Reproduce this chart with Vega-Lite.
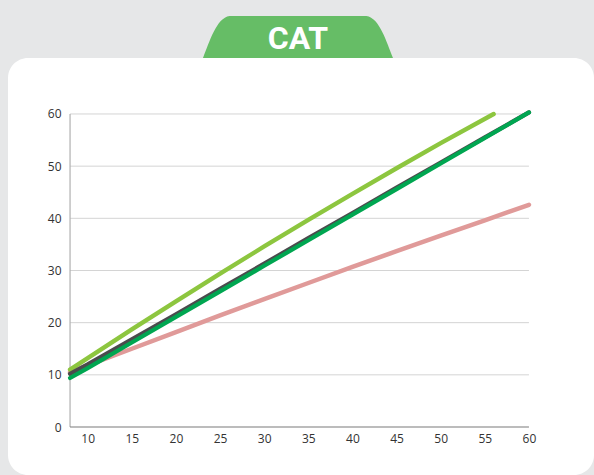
{
  "$schema": "https://vega.github.io/schema/vega-lite/v6.json",
  "background": "#e6e7e8",
  "padding": {"left": 8, "top": 16, "right": 0, "bottom": 0},
  "spacing": 0,
  "config": {"view": {"stroke": null}},
  "vconcat": [
    {
      "width": 580,
      "height": 42,
      "view": {"stroke": null},
      "data": {"values": [{"label": "CAT"}]},
      "layer": [
        {
          "mark": {
            "type": "point",
            "shape": "M -1 0.221 C -0.93 0.05 -0.86 -0.2 -0.72 -0.221 L 0.72 -0.221 C 0.86 -0.2 0.93 0.05 1 0.221 Z",
            "size": 36100,
            "filled": true,
            "fill": "#66bd66",
            "opacity": 1,
            "strokeWidth": 0
          },
          "encoding": {}
        },
        {
          "mark": {
            "type": "text",
            "font": "Roboto",
            "fontWeight": "bold",
            "fontSize": 32,
            "color": "#ffffff",
            "baseline": "middle",
            "align": "center",
            "dy": 2
          },
          "encoding": {"text": {"field": "label", "type": "nominal"}}
        }
      ]
    },
    {
      "width": 586,
      "height": 417,
      "view": {"fill": "#ffffff", "stroke": null, "cornerRadius": 20},
      "layer": [
        {
          "data": {"values": [{"g": 10}, {"g": 20}, {"g": 30}, {"g": 40}, {"g": 50}, {"g": 60}]},
          "mark": {"type": "rule", "color": "#d4d4d4", "strokeWidth": 1},
          "encoding": {
            "y": {"field": "g", "type": "quantitative",
              "scale": {"domain": [-9.2, 70.73], "zero": false, "nice": false},
              "axis": {"orient": "left", "offset": -62, "values": [0, 10, 20, 30, 40, 50, 60], "domain": false, "ticks": false, "grid": false, "title": null, "labelFont": "Open Sans", "labelFontSize": 12, "labelColor": "#333333", "labelPadding": 9, "labelFlush": false}},
            "x": {"datum": 8, "type": "quantitative",
              "scale": {"domain": [0.97, 67.37], "zero": false, "nice": false},
              "axis": {"orient": "bottom", "offset": -48, "values": [10, 15, 20, 25, 30, 35, 40, 45, 50, 55, 60], "domain": false, "ticks": false, "grid": false, "title": null, "labelFont": "Open Sans", "labelFontSize": 12, "labelColor": "#333333", "labelPadding": 6, "labelFlush": false}},
            "x2": {"datum": 60}
          }
        },
        {
          "data": {"values": [{"a": "y"}]},
          "mark": {"type": "rule", "color": "#b0b0b0", "strokeWidth": 1.2},
          "encoding": {
            "x": {"datum": 8, "type": "quantitative",
              "scale": {"domain": [0.97, 67.37], "zero": false, "nice": false},
              "axis": {"orient": "bottom", "offset": -48, "values": [10, 15, 20, 25, 30, 35, 40, 45, 50, 55, 60], "domain": false, "ticks": false, "grid": false, "title": null, "labelFont": "Open Sans", "labelFontSize": 12, "labelColor": "#333333", "labelPadding": 6, "labelFlush": false}},
            "y": {"datum": 0, "type": "quantitative",
              "scale": {"domain": [-9.2, 70.73], "zero": false, "nice": false},
              "axis": {"orient": "left", "offset": -62, "values": [0, 10, 20, 30, 40, 50, 60], "domain": false, "ticks": false, "grid": false, "title": null, "labelFont": "Open Sans", "labelFontSize": 12, "labelColor": "#333333", "labelPadding": 9, "labelFlush": false}},
            "y2": {"datum": 60}
          }
        },
        {
          "data": {"values": [{"a": "x"}]},
          "mark": {"type": "rule", "color": "#7a7a7a", "strokeWidth": 1.2},
          "encoding": {
            "y": {"datum": 0, "type": "quantitative",
              "scale": {"domain": [-9.2, 70.73], "zero": false, "nice": false},
              "axis": {"orient": "left", "offset": -62, "values": [0, 10, 20, 30, 40, 50, 60], "domain": false, "ticks": false, "grid": false, "title": null, "labelFont": "Open Sans", "labelFontSize": 12, "labelColor": "#333333", "labelPadding": 9, "labelFlush": false}},
            "x": {"datum": 8, "type": "quantitative",
              "scale": {"domain": [0.97, 67.37], "zero": false, "nice": false},
              "axis": {"orient": "bottom", "offset": -48, "values": [10, 15, 20, 25, 30, 35, 40, 45, 50, 55, 60], "domain": false, "ticks": false, "grid": false, "title": null, "labelFont": "Open Sans", "labelFontSize": 12, "labelColor": "#333333", "labelPadding": 6, "labelFlush": false}},
            "x2": {"datum": 60}
          }
        },
        {
          "data": {"values": [
            {"s": "Series 1", "x": 8, "y": 10.5}, {"s": "Series 1", "x": 10, "y": 11.8}, {"s": "Series 1", "x": 15, "y": 15.0}, {"s": "Series 1", "x": 20, "y": 18.2}, {"s": "Series 1", "x": 25, "y": 21.4}, {"s": "Series 1", "x": 30, "y": 24.5}, {"s": "Series 1", "x": 35, "y": 27.6}, {"s": "Series 1", "x": 40, "y": 30.7}, {"s": "Series 1", "x": 45, "y": 33.7}, {"s": "Series 1", "x": 50, "y": 36.7}, {"s": "Series 1", "x": 55, "y": 39.6}, {"s": "Series 1", "x": 60, "y": 42.6},
            {"s": "Series 2", "x": 8, "y": 11.0}, {"s": "Series 2", "x": 10, "y": 13.2}, {"s": "Series 2", "x": 15, "y": 18.7}, {"s": "Series 2", "x": 20, "y": 24.1}, {"s": "Series 2", "x": 25, "y": 29.4}, {"s": "Series 2", "x": 30, "y": 34.6}, {"s": "Series 2", "x": 35, "y": 39.7}, {"s": "Series 2", "x": 40, "y": 44.7}, {"s": "Series 2", "x": 45, "y": 49.6}, {"s": "Series 2", "x": 50, "y": 54.4}, {"s": "Series 2", "x": 56, "y": 60.0},
            {"s": "Series 3", "x": 8, "y": 10.2}, {"s": "Series 3", "x": 10, "y": 12.0}, {"s": "Series 3", "x": 15, "y": 16.8}, {"s": "Series 3", "x": 20, "y": 21.6}, {"s": "Series 3", "x": 25, "y": 26.5}, {"s": "Series 3", "x": 30, "y": 31.3}, {"s": "Series 3", "x": 35, "y": 36.2}, {"s": "Series 3", "x": 40, "y": 41.0}, {"s": "Series 3", "x": 45, "y": 45.9}, {"s": "Series 3", "x": 50, "y": 50.7}, {"s": "Series 3", "x": 55, "y": 55.5}, {"s": "Series 3", "x": 60, "y": 60.3},
            {"s": "Series 4", "x": 8, "y": 9.4}, {"s": "Series 4", "x": 10, "y": 11.3}, {"s": "Series 4", "x": 15, "y": 16.2}, {"s": "Series 4", "x": 20, "y": 21.1}, {"s": "Series 4", "x": 25, "y": 26.0}, {"s": "Series 4", "x": 30, "y": 30.9}, {"s": "Series 4", "x": 35, "y": 35.8}, {"s": "Series 4", "x": 40, "y": 40.7}, {"s": "Series 4", "x": 45, "y": 45.6}, {"s": "Series 4", "x": 50, "y": 50.5}, {"s": "Series 4", "x": 55, "y": 55.4}, {"s": "Series 4", "x": 60, "y": 60.3}
          ]},
          "mark": {"type": "line", "strokeCap": "round", "strokeJoin": "round"},
          "encoding": {
            "x": {
              "field": "x", "type": "quantitative",
              "scale": {"domain": [0.97, 67.37], "zero": false, "nice": false},
              "axis": {"orient": "bottom", "offset": -48, "values": [10, 15, 20, 25, 30, 35, 40, 45, 50, 55, 60], "domain": false, "ticks": false, "grid": false, "title": null, "labelFont": "Open Sans", "labelFontSize": 12, "labelColor": "#333333", "labelPadding": 6, "labelFlush": false}
            },
            "y": {
              "field": "y", "type": "quantitative",
              "scale": {"domain": [-9.2, 70.73], "zero": false, "nice": false},
              "axis": {"orient": "left", "offset": -62, "values": [0, 10, 20, 30, 40, 50, 60], "domain": false, "ticks": false, "grid": false, "title": null, "labelFont": "Open Sans", "labelFontSize": 12, "labelColor": "#333333", "labelPadding": 9, "labelFlush": false}
            },
            "color": {
              "field": "s", "type": "nominal",
              "scale": {"domain": ["Series 1", "Series 2", "Series 3", "Series 4"], "range": ["#e09a99", "#8dc63f", "#4b4b4d", "#00a651"]},
              "legend": null
            },
            "strokeWidth": {
              "field": "s", "type": "nominal",
              "scale": {"domain": ["Series 1", "Series 2", "Series 3", "Series 4"], "range": [4.5, 4.2, 4.8, 5]},
              "legend": null
            }
          }
        }
      ]
    }
  ]
}
